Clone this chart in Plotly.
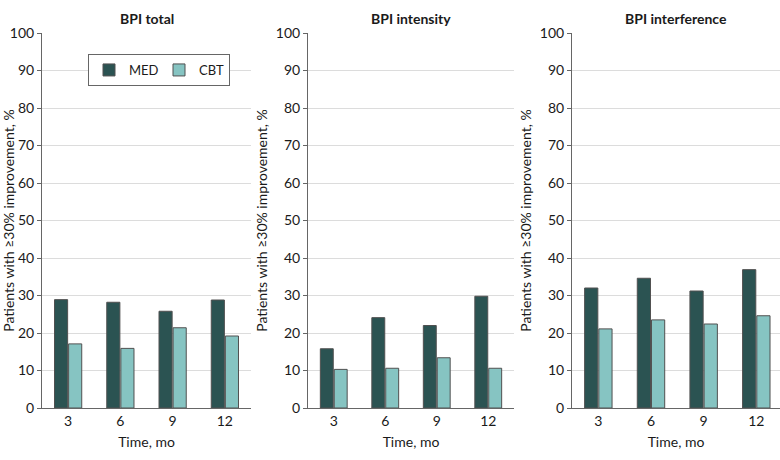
import plotly.graph_objects as go

times = ["3", "6", "9", "12"]
panels = ["BPI total", "BPI intensity", "BPI interference"]
med_total = [28.9, 28.2, 25.8, 28.8]
cbt_total = [17.1, 15.9, 21.4, 19.2]
med_intensity = [15.8, 24.1, 22.0, 29.8]
cbt_intensity = [10.3, 10.6, 13.4, 10.6]
med_interference = [32.0, 34.6, 31.2, 36.9]
cbt_interference = [21.1, 23.5, 22.4, 24.6]
y_ticks = [0, 10, 20, 30, 40, 50, 60, 70, 80, 90, 100]

MED_COLOR = "#2b5352"
CBT_COLOR = "#86c4c2"
EDGE = "#505050"
FONT = "Lato, Open Sans, sans-serif"

W, H = 780, 460
data = [(med_total, cbt_total), (med_intensity, cbt_intensity), (med_interference, cbt_interference)]
xdom = [(42, 251), (308, 514), (572, 780)]
xranges = [[-0.5, 3.5], [-0.5, 3.5], [-0.5, 3.45]]
ytop, ybot = 33, 408

fig = go.Figure()
for i, (med, cbt) in enumerate(data):
    sfx = "" if i == 0 else str(i + 1)
    fig.add_trace(go.Bar(x=times, y=med, name="MED", marker=dict(color=MED_COLOR, line=dict(color=EDGE, width=1)),
                         xaxis="x" + sfx, yaxis="y" + sfx, showlegend=(i == 0), legendgroup="MED"))
    fig.add_trace(go.Bar(x=times, y=cbt, name="CBT", marker=dict(color=CBT_COLOR, line=dict(color=EDGE, width=1)),
                         xaxis="x" + sfx, yaxis="y" + sfx, showlegend=(i == 0), legendgroup="CBT"))

layout = dict(
    width=W, height=H,
    margin=dict(l=0, r=0, t=0, b=0),
    paper_bgcolor="white", plot_bgcolor="white",
    barmode="group", bargap=0.46, bargroupgap=0.07,
    font=dict(family=FONT, size=13, color="#1a1a1a"),
    legend=dict(orientation="h", x=88 / W, y=1 - 54 / H, xanchor="left", yanchor="top",
                bordercolor="#666", borderwidth=1, bgcolor="white",
                font=dict(size=13), itemwidth=30, entrywidth=25, traceorder="normal"),
    annotations=[],
)
for i in range(3):
    sfx = "" if i == 0 else str(i + 1)
    x0, x1 = xdom[i]
    layout["xaxis" + sfx] = dict(
        domain=[x0 / W, x1 / W], anchor="y" + sfx, type="category", range=xranges[i],
        showline=True, linecolor="#666", linewidth=1, ticks="", showgrid=False,
        title=dict(text="Time, mo", standoff=9, font=dict(size=14)), tickfont=dict(size=14),
        fixedrange=True, automargin=False,
    )
    layout["yaxis" + sfx] = dict(
        domain=[1 - ybot / H, 1 - ytop / H], anchor="x" + sfx, range=[0, 100],
        tickvals=y_ticks, showline=True, linecolor="#666", linewidth=1,
        ticks="outside", ticklen=4, tickcolor="#666",
        showgrid=True, gridcolor="#dcdcdc", gridwidth=1, zeroline=False,
        title=dict(text="Patients with ≥30% improvement, %", standoff=4, font=dict(size=14)),
        tickfont=dict(size=14), automargin=False,
    )
    layout["annotations"].append(dict(
        text="<b>" + panels[i] + "</b>", x=(x0 + x1) / 2 / W, y=1 - 18 / H, xref="paper", yref="paper",
        xanchor="center", yanchor="middle", showarrow=False, font=dict(size=14, color="#1a1a1a")))

fig.update_layout(**layout)
fig.write_html("out.html", config={"displayModeBar": False},
               post_script="document.body.style.margin='0';document.body.style.overflow='hidden';")
